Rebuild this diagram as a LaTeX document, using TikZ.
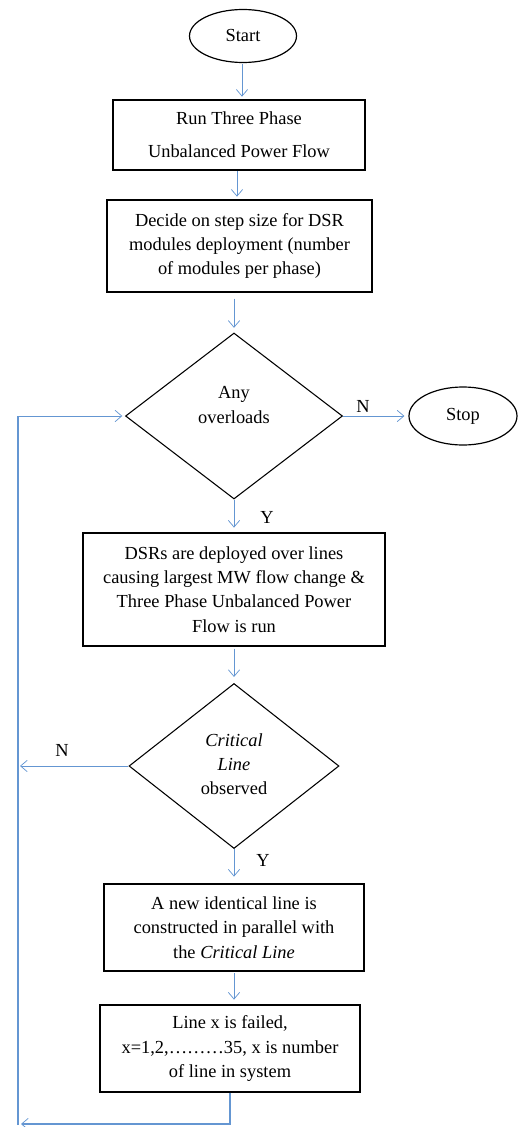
\documentclass[tikz,border=0pt]{standalone}
\usepackage{fontspec}
\setmainfont{Liberation Serif}
\usetikzlibrary{shapes.geometric,arrows.meta}
\definecolor{lineblue}{RGB}{100,150,210}
\tikzset{
  txt/.style={font=\fontsize{13.8}{18.2}\selectfont, align=center, inner sep=0pt},
  boxnode/.style={txt, draw=black, line width=1.1pt, rectangle},
  ellnode/.style={txt, draw=black, line width=0.9pt, ellipse, inner sep=0pt},
  dianode/.style={draw=black, line width=0.8pt, diamond, inner sep=0pt},
  lbl/.style={font=\fontsize{13.8}{16}\selectfont, inner sep=0pt},
  flow/.style={draw=lineblue, line width=0.7pt},
  conn/.style={flow, -{Straight Barb[length=5pt,width=8.5pt,line width=0.55pt]}},
}
\begin{document}
\begin{tikzpicture}[x=0.75pt,y=-0.75pt]
\useasboundingbox (0,0) rectangle (518,1127);
% nodes
\node[ellnode, minimum width=80.25pt, minimum height=39.75pt] (start) at (243,36) {Start};
\node[boxnode, minimum width=189pt, minimum height=52.5pt, font=\fontsize{13.8}{24.5}\selectfont] (box1) at (239,135) {Run Three Phase\\Unbalanced Power Flow};
\node[boxnode, minimum width=198.75pt, minimum height=69pt] (box2) at (239.5,246) {Decide on step size for DSR\\modules deployment (number\\of modules per phase)};
\node[dianode, minimum width=162.75pt, minimum height=124.5pt] (d1) at (234,416) {};
\node[txt] (d1t) at (234,405) {Any\\overloads};
\node[ellnode, minimum width=81pt, minimum height=43.5pt] (stop) at (463,416) {Stop};
\node[boxnode, minimum width=226.5pt, minimum height=84.75pt] (box3) at (234,589.5) {DSRs are deployed over lines\\causing largest MW flow change \&\\Three Phase Unbalanced Power\\Flow is run};
\node[dianode, minimum width=157.5pt, minimum height=123.75pt] (d2) at (234,766) {};
\node[txt] (d2t) at (234,764) {\textit{Critical}\\\textit{Line}\\observed};
\node[boxnode, minimum width=195pt, minimum height=65.25pt] (box4) at (234,927.5) {A new identical line is\\constructed in parallel with\\the \textit{Critical Line}};
\node[boxnode, minimum width=195pt, minimum height=65.25pt] (box5) at (230,1048.5) {Line x is failed,\\x=1,2,………35, x is number\\of line in system};
% labels
\node[lbl] (n1) at (363,406) {N};
\node[lbl] (y1) at (267,517) {Y};
\node[lbl] (n2) at (62,750) {N};
\node[lbl] (y2) at (263,860) {Y};
% coordinates
\coordinate (lb) at (18,1125);
\coordinate (lt) at (18,416);
\coordinate (la) at (20,766);
\coordinate (bl) at (21,1124);
% connectors
\draw[conn, shorten <=1pt, shorten >=2.5pt] (start.south -| 242,0) -- (242,100);
\draw[conn, shorten <=1pt, shorten >=2.5pt] (237,170) -- (237,200);
\draw[conn, shorten <=4.5pt, shorten >=3.5pt] (d1.north |- box2.south) -- (d1.north);
\draw[conn, shorten >=3.5pt] (d1.south) -- (d1.south |- box3.north);
\draw[conn, shorten <=1.5pt, shorten >=4.5pt] (box3.south) -- (d2.north);
\draw[conn, shorten >=5pt] (d2.south) -- (d2.south |- box4.north);
\draw[conn, shorten <=1pt, shorten >=3.5pt] (box4.south) -- (box4.south |- box5.north);
\draw[conn, shorten >=3pt] (d1.east) -- (stop.west);
\draw[conn] (d2.west) -- (la);
\draw[flow, line width=1pt] (lb) -- (lt);
\draw[conn, shorten >=2pt] (lt) -- (d1.west);
\draw[conn, line width=1pt] (box5.south) |- (bl);
\end{tikzpicture}
\end{document}
